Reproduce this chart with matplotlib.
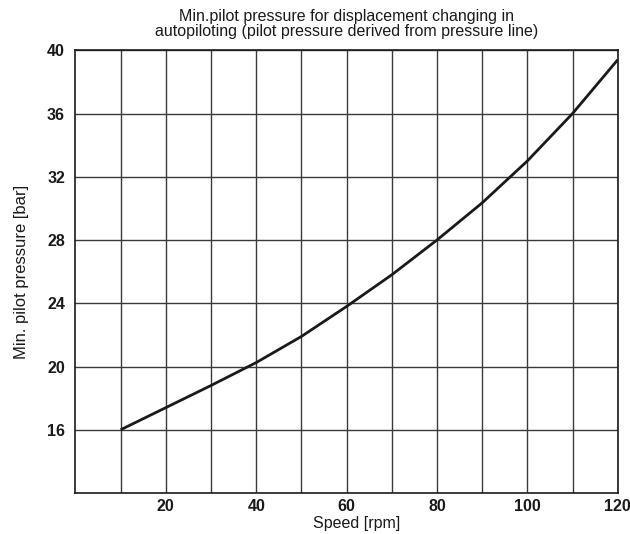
import matplotlib.pyplot as plt

# values
speed = [10, 20, 30, 40, 50, 60, 70, 80, 90, 100, 110, 120]
pressure = [16.0, 17.4, 18.8, 20.25, 21.9, 23.8, 25.8, 28.0, 30.35, 33.0, 36.0, 39.4]

x_major = [20, 40, 60, 80, 100, 120]
x_minor = [10, 30, 50, 70, 90, 110]
y_ticks = [16, 20, 24, 28, 32, 36, 40]

plt.rcParams["font.family"] = ["Liberation Sans", "DejaVu Sans"]

fig = plt.figure(figsize=(6.3, 5.34), dpi=100)
ax = fig.add_axes([0.1198, 0.0768, 0.8607, 0.829])

ax.plot(speed, pressure, color="#1a1a1a", linewidth=2.0, solid_capstyle="butt", zorder=3)

ax.set_xlim(0, 120)
ax.set_ylim(12, 40)
ax.set_xticks(x_major)
ax.set_xticks(x_minor, minor=True)
ax.set_yticks(y_ticks)
ax.tick_params(which="both", length=0)
ax.tick_params(axis="x", pad=4.5, labelsize=11.5)
ax.tick_params(axis="y", pad=7.5, labelsize=11.5)
for lbl in ax.get_xticklabels() + ax.get_yticklabels():
    lbl.set_fontweight("bold")
    lbl.set_color("#1a1a1a")

ax.grid(which="both", color="#3a3a3a", linewidth=1.0, zorder=1)
for sp in ax.spines.values():
    sp.set_color("#1a1a1a")
    sp.set_linewidth(1.2)

ax.set_title("Min.pilot pressure for displacement changing in\n"
             "autopiloting (pilot pressure derived from pressure line)",
             fontsize=11.5, pad=10, color="#1a1a1a", linespacing=1.05)
ax.set_xlabel("Speed [rpm]", fontsize=11.5, labelpad=2, color="#1a1a1a")
ax.xaxis.set_label_coords(0.519, -0.052)
ax.set_ylabel("Min. pilot pressure [bar]", fontsize=12, labelpad=13, color="#1a1a1a")

fig.savefig("out.png", dpi=100)
